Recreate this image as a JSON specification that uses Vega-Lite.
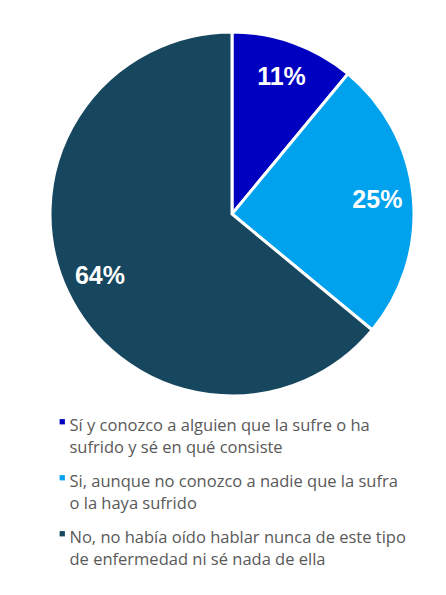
{
  "$schema": "https://vega.github.io/schema/vega-lite/v6.json",
  "width": 440,
  "height": 424,
  "padding": {"left": 12, "top": 2, "right": 0, "bottom": 0},
  "background": "white",
  "config": {
    "view": {"stroke": null},
    "font": "Liberation Sans",
    "style": {"guide-label": {"lineHeight": 21.5, "dy": -3.5}}
  },
  "data": {
    "values": [
      {"respuesta": "Sí y conozco a alguien que la sufre o ha sufrido y sé en qué consiste", "pct": 0.11, "orden": 1},
      {"respuesta": "Si, aunque no conozco a nadie que la sufra o la haya sufrido", "pct": 0.25, "orden": 2},
      {"respuesta": "No, no había oído hablar nunca de este tipo de enfermedad ni sé nada de ella", "pct": 0.64, "orden": 3}
    ]
  },
  "encoding": {
    "theta": {"field": "pct", "type": "quantitative", "stack": true},
    "order": {"field": "orden", "type": "quantitative"}
  },
  "layer": [
    {
      "mark": {"type": "arc", "outerRadius": 182, "stroke": "white", "strokeWidth": 3},
      "encoding": {
        "color": {
          "field": "respuesta",
          "type": "nominal",
          "sort": {"field": "orden"},
          "scale": {
            "domain": [
              "Sí y conozco a alguien que la sufre o ha sufrido y sé en qué consiste",
              "Si, aunque no conozco a nadie que la sufra o la haya sufrido",
              "No, no había oído hablar nunca de este tipo de enfermedad ni sé nada de ella"
            ],
            "range": ["#0000C0", "#00A2EE", "#17475F"]
          },
          "legend": {
            "title": null,
            "orient": "none",
            "legendX": 42,
            "legendY": 411.5,
            "direction": "vertical",
            "columns": 1,
            "symbolType": "square",
            "symbolSize": 28,
            "symbolStrokeWidth": 0,
            "labelFont": "Open Sans",
            "labelFontSize": 16.5,
            "labelColor": "#595959",
            "labelLimit": 420,
            "labelOffset": -1,
            "rowPadding": 13,
            "labelBaseline": "top",
            "labelExpr": "split(replace(replace(replace(datum.label, ' ha sufrido', ' ha|sufrido'), ' sufra o', ' sufra|o'), ' tipo de', ' tipo|de'), '|')"
          }
        }
      }
    },
    {
      "mark": {"type": "text", "radius": 146, "fontSize": 25, "fontWeight": "bold", "fill": "white", "font": "Liberation Sans"},
      "encoding": {
        "text": {"field": "pct", "type": "quantitative", "format": ".0%"},
        "detail": {"field": "respuesta"}
      }
    }
  ]
}
